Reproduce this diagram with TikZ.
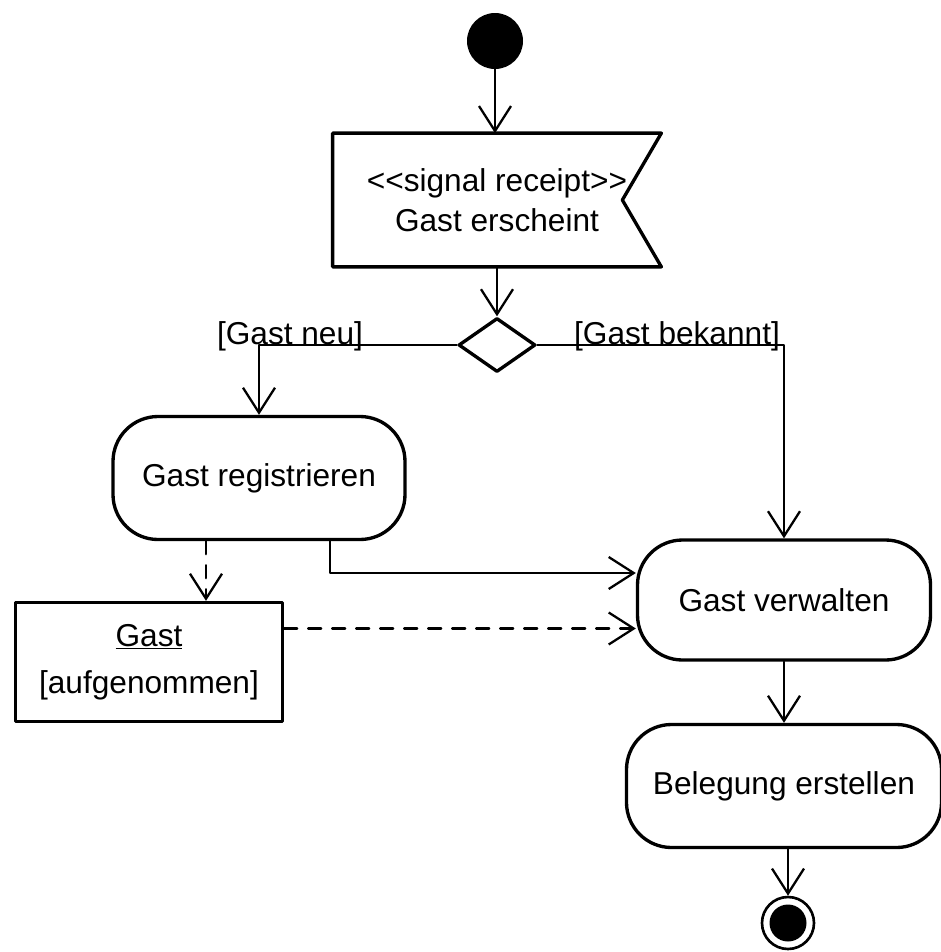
\documentclass[tikz,border=0pt]{standalone}
\usepackage{fontspec}
\setmainfont{Liberation Sans}
\usetikzlibrary{arrows.meta,shapes.geometric,calc}

\begin{document}
\begin{tikzpicture}[x=0.2mm, y=-0.2mm, font=\fontsize{18}{23}\selectfont, line cap=round, line join=round, >={Straight Barb[length=5mm,width=6.4mm]},
  action/.style={draw, line width=1.9pt, rounded corners=9mm, align=center, inner sep=0pt},
  flow/.style={->, line width=1.3pt},
  objflow/.style={->, line width=1.3pt, dash pattern=on 2.6mm off 2.2mm},
  guard/.style={anchor=base, inner sep=0pt}]
\useasboundingbox (0,0) rectangle (941,952);
\coordinate (init) at (495,41); \coordinate (sig) at (497,200); \coordinate (dec) at (497,345); \coordinate (reg) at (259,478); \coordinate (verw) at (784,600); \coordinate (beleg) at (784,786); \coordinate (obj) at (149,662); \coordinate (fin) at (788,923);
\node[circle, fill, minimum size=11.2mm, inner sep=0pt] (I) at (init) {};
\node[minimum width=65.6mm, minimum height=26.6mm, inner sep=0pt, align=center] (S) at (sig) {{<}{<}signal receipt{>}{>}\\Gast erscheint};
\draw[line width=1.9pt] (S.north west) -- (S.north east) -- ([xshift=-7.8mm]S.east) -- (S.south east) -- (S.south west) -- cycle;
\node[diamond, draw, line width=1.9pt, minimum width=15.4mm, minimum height=10.8mm, inner sep=0pt] (D) at (dec) {};
\node[action, minimum width=58.4mm, minimum height=24.6mm] (R) at (reg) {Gast registrieren};
\node[action, minimum width=58.6mm, minimum height=24mm] (V) at (verw) {Gast verwalten};
\node[action, minimum width=63mm, minimum height=24.6mm] (B) at (beleg) {Belegung erstellen};
\node[draw, line width=1.9pt, minimum width=53.4mm, minimum height=23.8mm, align=center] (O) at (obj) {\underline{Gast}\\[4pt]{[aufgenommen]}};
\node[circle, draw, line width=1.5pt, minimum size=10.4mm, inner sep=0pt] (F) at (fin) {};
\node[circle, fill, minimum size=7.4mm, inner sep=0pt] (Fi) at (fin) {};
\node[guard] (neu) at (290,344) {[Gast neu]}; \node[guard] (bek) at (677,344) {[Gast bekannt]};
\draw[flow] (I.south) -- (I.south |- S.north);
\draw[flow] (S.south) -- (D.north);
\draw[flow] (D.west) -| (R.north);
\draw[flow] (D.east) -| (V.north);
\draw[flow] ([xshift=14.2mm]R.south) |- ([yshift=5.4mm]V.west);
\draw[objflow] ([xshift=-10.6mm]R.south) -- ([xshift=-10.6mm]R.south |- O.north);
\draw[objflow] ([yshift=6.7mm]O.east) -- ([yshift=6.7mm]O.east -| V.west);
\draw[flow] (V.south) -- (B.north);
\draw[flow] (B.south -| F) -- (F.north);
\end{tikzpicture}
\end{document}
